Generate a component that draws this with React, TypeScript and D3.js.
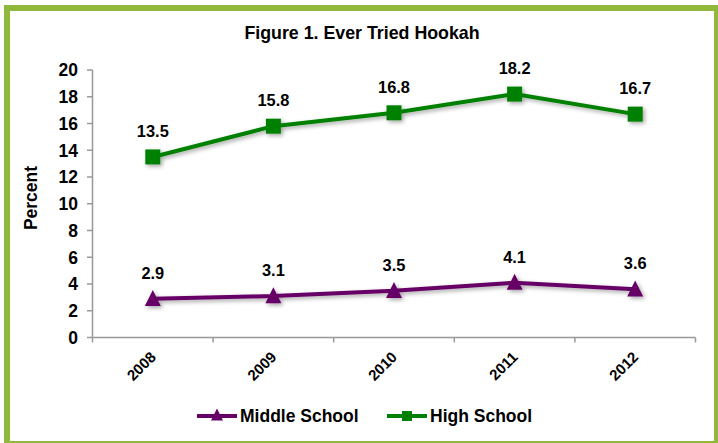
import React from "react";
import * as d3 from "d3";

const years = ["2008", "2009", "2010", "2011", "2012"];
const middleSchool = [2.9, 3.1, 3.5, 4.1, 3.6];
const highSchool = [13.5, 15.8, 16.8, 18.2, 16.7];
const yTicks = [0, 2, 4, 6, 8, 10, 12, 14, 16, 18, 20];
const title = "Figure 1. Ever Tried Hookah";
const yTitle = "Percent";
const seriesNames = ["Middle School", "High School"];

const W = 718;
const H = 443;
const FONT = "'Liberation Sans', Arial, Helvetica, sans-serif";
const GREEN = "#008000";
const PURPLE = "#660066";
const BORDER = "#8FB83C";

export default function App() {
  const x = d3.scaleBand<string>().domain(years).range([92.5, 695.5]);
  const y = d3.scaleLinear().domain([0, 20]).range([337.5, 70]);
  const cx = (yr: string) => (x(yr) as number) + x.bandwidth() / 2;

  const line = d3
    .line<number>()
    .x((_, i) => cx(years[i]))
    .y((v) => y(v));

  const tri = (px: number, py: number, s: number) =>
    `M${px},${py - s * 0.55} L${px + s / 2},${py + s * 0.45} L${px - s / 2},${py + s * 0.45} Z`;

  const bounds = [...years.map((yr) => x(yr) as number), 695.5];

  return (
    <svg
      width={W}
      height={H}
      style={{ position: "absolute", left: 0, top: 0, fontFamily: FONT }}
    >
      <defs>
        <filter id="sh" x="-50%" y="-50%" width="200%" height="200%">
          <feDropShadow dx="2" dy="2" stdDeviation="2" floodColor="#000" floodOpacity="0.35" />
        </filter>
      </defs>
      <rect x={0} y={0} width={W} height={H} fill="#fff" />
      <rect x={7} y={8} width={710} height={436} fill="#fff" stroke={BORDER} strokeWidth={6} />

      <text x={362} y={39} textAnchor="middle" fontSize={17.8} fontWeight="bold" fill="#000">
        {title}
      </text>

      {/* Y axis */}
      <line x1={92.5} x2={92.5} y1={y(20)} y2={y(0)} stroke="#999" strokeWidth={1.5} />
      {yTicks.map((t) => (
        <g key={t}>
          <line x1={87} x2={92.5} y1={y(t)} y2={y(t)} stroke="#999" strokeWidth={1.5} />
          <text x={78} y={y(t)} dy="0.36em" textAnchor="end" fontSize={17.5} fontWeight="bold">
            {t}
          </text>
        </g>
      ))}
      <text
        transform={`translate(37,198) rotate(-90)`}
        textAnchor="middle"
        fontSize={17.5}
        fontWeight="bold"
      >
        {yTitle}
      </text>

      {/* X axis */}
      <line x1={92.5} x2={695.5} y1={y(0)} y2={y(0)} stroke="#999" strokeWidth={1.5} />
      {bounds.map((b, i) => (
        <line key={i} x1={b} x2={b} y1={y(0)} y2={y(0) + 5} stroke="#999" strokeWidth={1.5} />
      ))}
      {years.map((yr) => (
        <text
          key={yr}
          transform={`translate(${cx(yr) + 4},${358}) rotate(-45)`}
          textAnchor="end"
          fontSize={15}
          fontWeight="bold"
        >
          {yr}
        </text>
      ))}

      {/* Lines */}
      <g filter="url(#sh)">
        <path d={line(middleSchool) as string} fill="none" stroke={PURPLE} strokeWidth={4} />
        <path d={line(highSchool) as string} fill="none" stroke={GREEN} strokeWidth={4} />
        {middleSchool.map((v, i) => (
          <path key={"m" + i} d={tri(cx(years[i]), y(v), 16)} fill={PURPLE} />
        ))}
        {highSchool.map((v, i) => (
          <rect key={"h" + i} x={cx(years[i]) - 7.5} y={y(v) - 7.5} width={15} height={15} fill={GREEN} />
        ))}
      </g>

      {/* Labels */}
      {middleSchool.map((v, i) => (
        <text key={"ml" + i} x={cx(years[i])} y={y(v) - 20} textAnchor="middle" fontSize={16.4} fontWeight="bold">
          {v.toFixed(1)}
        </text>
      ))}
      {highSchool.map((v, i) => (
        <text key={"hl" + i} x={cx(years[i])} y={y(v) - 20} textAnchor="middle" fontSize={16.4} fontWeight="bold">
          {v.toFixed(1)}
        </text>
      ))}

      {/* Legend */}
      <g>
        <line x1={197} x2={237} y1={416} y2={416} stroke={PURPLE} strokeWidth={4} />
        <path d={tri(217, 415, 12)} fill={PURPLE} />
        <text x={240} y={422} fontSize={17.5} fontWeight="bold">
          {seriesNames[0]}
        </text>
        <line x1={387} x2={427} y1={416} y2={416} stroke={GREEN} strokeWidth={4} />
        <rect x={402} y={411} width={10} height={10} fill={GREEN} />
        <text x={430} y={422} fontSize={17.5} fontWeight="bold">
          {seriesNames[1]}
        </text>
      </g>
    </svg>
  );
}
